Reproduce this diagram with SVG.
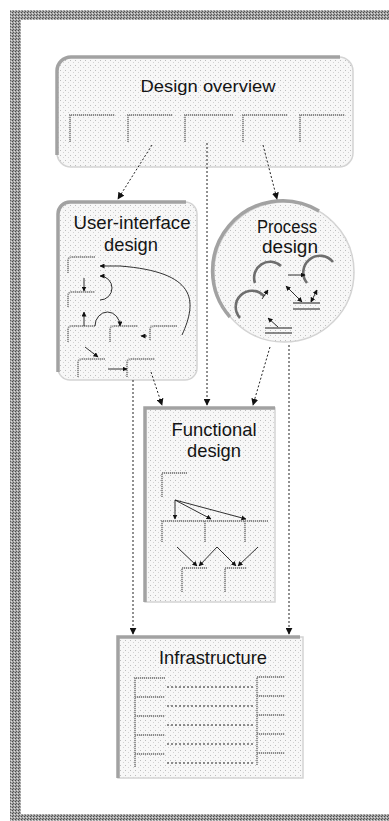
<svg xmlns="http://www.w3.org/2000/svg" width="389" height="821" viewBox="0 0 389 821">
  <style>
    .lbl { font-family: "Liberation Sans", "DejaVu Sans", sans-serif; fill: #141414; text-anchor: middle; }
    .edge-lt { fill: none; stroke: #a2a2a2; stroke-width: 3.5; }
    .edge { stroke: #d4d4d4; stroke-width: 1.5; }
    .sub { fill: none; stroke: #8a8a8a; stroke-width: 1.8; stroke-dasharray: 1.2 0.8; }
    .arr { fill: none; stroke: #1a1a1a; stroke-width: 0.9; marker-end: url(#head); }
    .arr2 { fill: none; stroke: #1a1a1a; stroke-width: 0.9; marker-end: url(#head); marker-start: url(#headS); }
    .swirl { fill: none; stroke: #6e6e6e; stroke-width: 2.6; }
    .bar { fill: none; stroke: #1a1a1a; stroke-width: 1; }
    .conn { fill: none; stroke: #222; stroke-width: 1; stroke-dasharray: 2 2; marker-end: url(#bighead); }
    .dash { fill: none; stroke: #222; stroke-width: 1; stroke-dasharray: 2 2; }
  </style>
  <defs>
    <!-- light halftone used for the node fills -->
    <pattern id="stip" width="5" height="5" patternUnits="userSpaceOnUse">
      <rect width="5" height="5" fill="#f7f7f7"/>
      <rect x="0" y="0" width="1" height="1" fill="#bdbdbd"/>
      <rect x="3" y="2" width="1" height="1" fill="#d2d2d2"/>
    </pattern>
    <!-- darker halftone for the page frame -->
    <pattern id="frame" width="3" height="3" patternUnits="userSpaceOnUse">
      <rect width="3" height="3" fill="#a4a4a4"/>
      <rect x="0" y="0" width="1" height="1" fill="#4a4a4a"/>
      <rect x="1" y="2" width="1" height="1" fill="#5a5a5a"/>
      <rect x="2" y="1" width="1" height="1" fill="#e0e0e0"/>
    </pattern>
    <marker id="bighead" viewBox="0 0 10 10" refX="9" refY="5" markerWidth="7" markerHeight="7" markerUnits="userSpaceOnUse" orient="auto">
      <path d="M0,0 L10,5 L0,10 Z" fill="#111"/>
    </marker>
    <marker id="head" viewBox="0 0 10 10" refX="9" refY="5" markerWidth="5" markerHeight="5" markerUnits="userSpaceOnUse" orient="auto">
      <path d="M0,0 L10,5 L0,10 Z" fill="#111"/>
    </marker>
    <marker id="headS" viewBox="0 0 10 10" refX="1" refY="5" markerWidth="5" markerHeight="5" markerUnits="userSpaceOnUse" orient="auto">
      <path d="M10,0 L0,5 L10,10 Z" fill="#111"/>
    </marker>
  </defs>

  <rect width="389" height="821" fill="#ffffff"/>

  <!-- page frame -->
  <g id="frame-bars">
    <rect x="10" y="10" width="379" height="10" fill="url(#frame)"/>
    <rect x="10" y="10" width="11" height="811" fill="url(#frame)"/>
    <rect x="10" y="814" width="379" height="7" fill="url(#frame)"/>
  </g>

  <!-- Design overview -->
  <g id="design-overview">
    <rect x="57" y="57" width="296" height="110" rx="14" fill="url(#stip)" class="edge"/>
    <path class="edge-lt" d="M57,155 V71 A14,14 0 0 1 71,57 H340"/>
    <text class="lbl" x="208" y="92" font-size="17" textLength="135" lengthAdjust="spacingAndGlyphs">Design overview</text>
    <path class="sub" d="M70,142 V115 H115"/>
    <path class="sub" d="M128,142 V115 H173"/>
    <path class="sub" d="M185,142 V115 H233"/>
    <path class="sub" d="M243,142 V115 H288"/>
    <path class="sub" d="M300,142 V115 H345"/>
  </g>

  <!-- User-interface design -->
  <g id="ui-design">
    <rect x="58" y="202" width="139" height="178" rx="12" fill="url(#stip)" class="edge"/>
    <path class="edge-lt" d="M58,372 V214 A12,12 0 0 1 70,202 H186"/>
    <text class="lbl" x="132" y="229" font-size="19" textLength="117" lengthAdjust="spacingAndGlyphs">User-interface</text>
    <text class="lbl" x="131" y="251" font-size="19" textLength="54" lengthAdjust="spacingAndGlyphs">design</text>
    <path class="sub" d="M68,273 V261 Q68,257 72,257 H95"/>
    <path class="sub" d="M68,307 V296 Q68,292 72,292 H95"/>
    <path class="sub" d="M68,342 V330 Q68,326 72,326 H95"/>
    <path class="sub" d="M110,342 V330 Q110,326 114,326 H138"/>
    <path class="sub" d="M150,340 V330 Q150,326 154,326 H177"/>
    <path class="sub" d="M78,377 V363 Q78,359 82,359 H105"/>
    <path class="sub" d="M127,377 V363 Q127,359 131,359 H155"/>
    <path class="arr" d="M182,335 C198,300 196,272 120,266 L100,266"/>
    <path class="arr" d="M84,278 V291"/>
    <path class="arr" d="M100,300 A12,12 0 0 0 100,276"/>
    <path class="arr" d="M84,326 V312"/>
    <path class="arr" d="M95,326 A12.5,14 0 0 1 120,326"/>
    <path class="arr" d="M147,336 H141"/>
    <path class="arr" d="M85,347 L98,357"/>
    <path class="arr" d="M108,369 H127"/>
  </g>

  <!-- Process design -->
  <g id="process-design">
    <circle cx="284" cy="272" r="70" fill="url(#stip)" class="edge"/>
    <path class="edge-lt" d="M230,317 A70,70 0 0 1 319,211"/>
    <text class="lbl" x="287" y="233" font-size="18" textLength="60" lengthAdjust="spacingAndGlyphs">Process</text>
    <text class="lbl" x="290" y="253" font-size="18" textLength="56" lengthAdjust="spacingAndGlyphs">design</text>
    <path class="swirl" d="M255,283 A16,16 0 0 1 281,266"/>
    <path class="swirl" d="M307,283 A16,16 0 0 1 333,262"/>
    <path class="swirl" d="M240,318 A16,16 0 0 1 264,296"/>
    <path class="arr" d="M288,275 H305"/>
    <path class="arr" d="M262,299 L268,290"/>
    <path class="bar" d="M293,303 H320 M293,309 H320"/>
    <path class="arr2" d="M286,286 L302,302"/>
    <path class="arr2" d="M317,290 L311,302"/>
    <path class="bar" d="M265,328 H292 M265,333 H292"/>
    <path class="arr" d="M278,327 L268,318"/>
  </g>

  <!-- Functional design -->
  <g id="functional-design">
    <rect x="145" y="408" width="130" height="194" fill="url(#stip)" class="edge"/>
    <path class="edge-lt" d="M145,602 V408 H275"/>
    <text class="lbl" x="214" y="436" font-size="19" textLength="85" lengthAdjust="spacingAndGlyphs">Functional</text>
    <text class="lbl" x="214" y="457" font-size="19" textLength="54" lengthAdjust="spacingAndGlyphs">design</text>
    <path class="sub" d="M162,497 V473 H187"/>
    <path class="sub" d="M162,542 V521 H268 M205,542 V521 M245,542 V521"/>
    <path class="arr" d="M175,500 V519"/>
    <path class="arr" d="M175,500 L211,519"/>
    <path class="arr" d="M175,500 L246,519"/>
    <path class="sub" d="M182,592 V568 H207"/>
    <path class="sub" d="M225,592 V568 H247"/>
    <path class="arr" d="M177,547 L197,566"/>
    <path class="arr" d="M217,547 L199,566"/>
    <path class="arr" d="M217,547 L236,566"/>
    <path class="arr" d="M258,547 L238,566"/>
  </g>

  <!-- Infrastructure -->
  <g id="infrastructure">
    <rect x="118" y="637" width="185" height="141" fill="url(#stip)" class="edge"/>
    <path class="edge-lt" d="M118,778 V637 H300"/>
    <text class="lbl" x="213" y="664" font-size="19" textLength="108" lengthAdjust="spacingAndGlyphs">Infrastructure</text>
    <path class="sub" d="M135,767 V678 H165 M135,697 H165 M135,716 H165 M135,735 H165 M135,754 H165"/>
    <path class="sub" d="M257,765 V677 H285 M257,696 H285 M257,715 H285 M257,734 H285 M257,753 H285"/>
    <path class="dash" d="M167,687 H255 M167,706 H255 M167,725 H255 M167,744 H255 M167,763 H255"/>
  </g>

  <!-- connectors -->
  <g id="connectors">
    <path class="conn" d="M152,145 L118,199"/>
    <path class="conn" d="M263,145 L277,199"/>
    <path class="conn" d="M207,143 V405"/>
    <path class="conn" d="M151,372 L162,405"/>
    <path class="conn" d="M270,347 L253,405"/>
    <path class="conn" d="M133,380 V634"/>
    <path class="conn" d="M289,345 V634"/>
  </g>
</svg>
